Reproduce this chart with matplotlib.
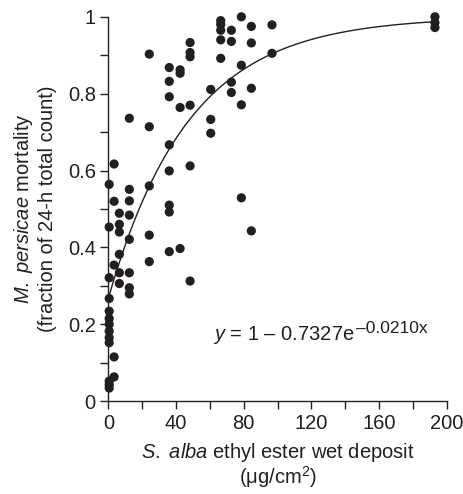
import matplotlib.pyplot as plt
import numpy as np
from matplotlib.ticker import MultipleLocator

plt.rcParams['font.family'] = ['Liberation Sans', 'DejaVu Sans']
plt.rcParams['mathtext.fontset'] = 'custom'
plt.rcParams['mathtext.rm'] = 'Liberation Sans'
plt.rcParams['mathtext.it'] = 'Liberation Sans:italic'

# deposit (ug/cm2) and mortality
dose_cols = [0.5, 3.4, 6.5, 12.4, 24.2, 36, 42.4, 48.3, 60.5, 66.4, 72.7, 78.6, 84.5, 96.7, 193]
mort_cols = [
    [0.564, 0.453, 0.321, 0.267, 0.234, 0.215, 0.200, 0.182, 0.165, 0.152, 0.052, 0.043, 0.034],
    [0.617, 0.52, 0.354, 0.115, 0.063],
    [0.489, 0.460, 0.440, 0.382, 0.334, 0.306],
    [0.736, 0.551, 0.521, 0.484, 0.421, 0.334, 0.295, 0.279],
    [0.903, 0.714, 0.56, 0.432, 0.363],
    [0.868, 0.832, 0.792, 0.667, 0.599, 0.510, 0.492, 0.389],
    [0.862, 0.853, 0.764, 0.397],
    [0.933, 0.907, 0.896, 0.770, 0.612, 0.3125],
    [0.811, 0.733, 0.697],
    [0.99, 0.98, 0.965, 0.940, 0.892],
    [0.965, 0.936, 0.830, 0.803],
    [1.0, 0.874, 0.771, 0.529],
    [0.975, 0.932, 0.814, 0.443],
    [0.979, 0.905],
    [1.0, 0.985, 0.972],
]

# fitted model y = 1 - a*exp(-b*x)
fit_a = 0.7327
fit_b = 0.0210
fit_xmax = 193

x = np.concatenate([[d] * len(m) for d, m in zip(dose_cols, mort_cols)])
y = np.concatenate(mort_cols)

ink = '#231f20'
fs = 14.5

fig = plt.figure(figsize=(4.63, 4.94), dpi=100)
ax = fig.add_axes([0.234, 0.188, 0.731, 0.778])

xf = np.linspace(0, fit_xmax, 300)
ax.plot(xf, 1 - fit_a * np.exp(-fit_b * xf), color=ink, lw=1.0, zorder=2)
ax.scatter(x, y, s=44, color=ink, edgecolors='none', zorder=3, clip_on=False)

ax.set_xlim(0, 200)
ax.set_ylim(0, 1)
ax.xaxis.set_major_locator(MultipleLocator(40))
ax.xaxis.set_minor_locator(MultipleLocator(20))
ax.yaxis.set_minor_locator(MultipleLocator(0.1))
ax.set_yticks(np.arange(0, 1.01, 0.2))
ax.set_yticklabels(['0', '0.2', '0.4', '0.6', '0.8', '1'])

for s in ['top', 'right']:
    ax.spines[s].set_visible(False)
for s in ['left', 'bottom']:
    ax.spines[s].set_color(ink)
    ax.spines[s].set_linewidth(1.0)
ax.tick_params(which='both', direction='out', length=6, width=1.0, color=ink,
               labelsize=fs, labelcolor=ink, pad=3)

ax.set_xlabel('$\\mathit{S.\\ alba}$ ethyl ester wet deposit\n(μg/cm$^\\mathregular{2}$)',
              fontsize=fs, color=ink, labelpad=6, linespacing=1.0)
ax.set_ylabel('$\\mathit{M.\\ persicae}$ mortality\n(fraction of 24-h total count)',
              fontsize=fs, color=ink, labelpad=8, linespacing=1.2)

# fit equation, exponent drawn as a separate raised text
eq = ax.text(62, 0.16, '$\\mathit{y}$ = 1 – 0.7327e',
             fontsize=fs, color=ink, va='baseline', ha='left')
ax.annotate('–0.0210x', xy=(1, 0), xycoords=eq, xytext=(0.5, 7),
            textcoords='offset points', fontsize=12.5, color=ink,
            va='bottom', ha='left')

fig.savefig('out.png', dpi=100)
